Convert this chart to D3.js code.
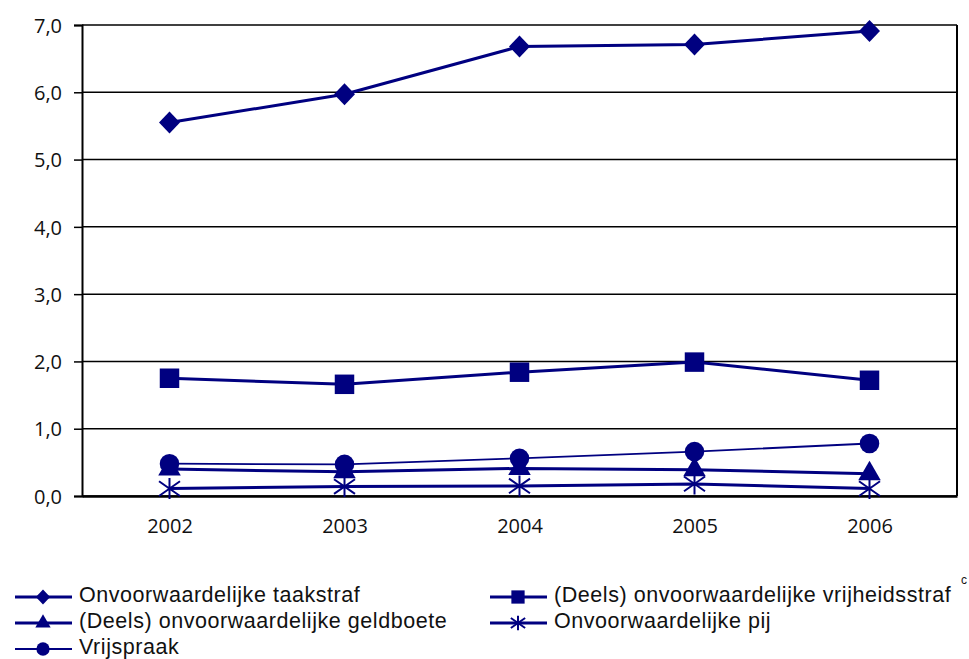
<!DOCTYPE html>
<html>
<head>
<meta charset="utf-8">
<script src="https://cdn.jsdelivr.net/npm/d3@7"></script>
<style>
  body { margin: 0; background: white; }
  svg { display: block; font-family: "Open Sans", "Liberation Sans", sans-serif; }
</style>
</head>
<body>
<div id="chart"></div>
<script>
// data
const years = ["2002", "2003", "2004", "2005", "2006"];
const taakstraf = [5.55, 5.97, 6.68, 6.71, 6.91];
const vrijheidsstraf = [1.75, 1.66, 1.84, 1.99, 1.72];
const geldboete = [0.40, 0.36, 0.41, 0.39, 0.33];
const pij = [0.11, 0.14, 0.15, 0.18, 0.11];
const vrijspraak = [0.48, 0.47, 0.56, 0.66, 0.78];
const yTicks = [0, 1, 2, 3, 4, 5, 6, 7];

const series = [
  {name: "Onvoorwaardelijke taakstraf", values: taakstraf, symbol: "diamond", width: 3},
  {name: "(Deels) onvoorwaardelijke vrijheidsstraf", values: vrijheidsstraf, symbol: "square", width: 3},
  {name: "(Deels) onvoorwaardelijke geldboete", values: geldboete, symbol: "triangle", width: 3},
  {name: "Onvoorwaardelijke pij", values: pij, symbol: "star", width: 3},
  {name: "Vrijspraak", values: vrijspraak, symbol: "circle", width: 1.8}
];

const W = 969, H = 659;
const color = "#000080";
const plotLeft = 82, plotRight = 957, plotTop = 25, plotBottom = 496;

const svg = d3.select("#chart").append("svg")
    .attr("width", W)
    .attr("height", H);

const x = d3.scalePoint()
    .domain(years)
    .range([plotLeft, plotRight])
    .padding(0.5);

const y = d3.scaleLinear()
    .domain([0, 7])
    .range([plotBottom, plotTop]);

const fmt = d => d.toFixed(1).replace(".", ",");

// gridlines
svg.append("g")
  .selectAll("line")
  .data(yTicks)
  .enter().append("line")
    .attr("x1", plotLeft)
    .attr("x2", plotRight)
    .attr("y1", d => y(d))
    .attr("y2", d => y(d))
    .style("stroke", "black")
    .style("stroke-width", 1.5);

// right border
svg.append("line")
    .attr("x1", plotRight).attr("x2", plotRight)
    .attr("y1", plotTop).attr("y2", plotBottom)
    .style("stroke", "black")
    .style("stroke-width", 2);

// y axis
const yAxis = svg.append("g")
    .attr("transform", `translate(${plotLeft},0)`)
    .call(d3.axisLeft(y).tickValues(yTicks).tickFormat(fmt).tickSize(8).tickPadding(12));
yAxis.attr("font-family", null);
yAxis.select(".domain").style("stroke", "black").style("stroke-width", 2);
yAxis.selectAll(".tick line").style("stroke", "black").style("stroke-width", 1.5);
yAxis.selectAll("text")
    .style("font-size", "20px")
    .style("fill", "#111")
    .attr("dy", "0.36em");

// x axis labels
const xAxis = svg.append("g")
    .attr("transform", `translate(0,${plotBottom})`)
    .call(d3.axisBottom(x).tickSize(0));
xAxis.attr("font-family", null);
xAxis.select(".domain").style("stroke", "black").style("stroke-width", 2.5);
xAxis.selectAll("text")
    .attr("y", 37)
    .attr("dy", 0)
    .style("font-size", "20px")
    .style("fill", "#111");

const symbols = {
  diamond: d3.symbol().type(d3.symbolDiamond).size(200),
  square: d3.symbol().type(d3.symbolSquare).size(380),
  triangle: d3.symbol().type(d3.symbolTriangle).size(220),
  circle: d3.symbol().type(d3.symbolCircle).size(300)
};

function drawMarker(g, sym, cx, cy, k) {
  if (sym === "star") {
    // asterisk: vertical + two diagonals
    const r = 10.5 * k;
    const p = d3.path();
    p.moveTo(cx, cy - r); p.lineTo(cx, cy + r);
    p.moveTo(cx - r, cy - r * 0.7); p.lineTo(cx + r, cy + r * 0.7);
    p.moveTo(cx - r, cy + r * 0.7); p.lineTo(cx + r, cy - r * 0.7);
    g.append("path")
        .attr("d", p.toString())
        .style("stroke", color)
        .style("stroke-width", 2)
        .style("fill", "none");
  } else {
    const sx = sym === "diamond" ? 1.38 * k : k;
    const sy = sym === "diamond" ? 0.84 * k : k;
    g.append("path")
        .attr("d", symbols[sym]())
        .attr("transform", `translate(${cx},${cy}) scale(${sx},${sy})`)
        .style("fill", color);
  }
}

const line = d3.line()
    .x((d, i) => x(years[i]))
    .y(d => y(d));

// draw lowest series last so markers stack like the original
const drawOrder = [0, 1, 4, 2, 3];
drawOrder.forEach(k => {
  const s = series[k];
  const g = svg.append("g");
  g.append("path")
      .datum(s.values)
      .attr("d", line)
      .style("fill", "none")
      .style("stroke", color)
      .style("stroke-width", s.width);
  s.values.forEach((v, i) => drawMarker(g, s.symbol, x(years[i]), y(v), 1));
});

// legend
const legendPos = [
  [15, 597], [490, 597],
  [15, 623], [490, 623],
  [15, 649]
];
series.forEach((s, i) => {
  const [lx, ly] = legendPos[i];
  const g = svg.append("g");
  g.append("line")
      .attr("x1", lx).attr("x2", lx + 57)
      .attr("y1", ly).attr("y2", ly)
      .style("stroke", color)
      .style("stroke-width", s.width);
  drawMarker(g, s.symbol, lx + 28, ly, 0.68);
  g.append("text")
      .attr("x", lx + 64)
      .attr("y", ly + 5)
      .style("font-family", "'Liberation Sans', Arial, sans-serif")
      .style("font-size", "21.5px")
      .style("letter-spacing", "0.55px")
      .style("fill", "#111")
      .text(s.name);
});

svg.append("text")
    .attr("x", 961)
    .attr("y", 584)
    .style("font-family", "'Liberation Sans', Arial, sans-serif")
    .style("font-size", "12px")
    .style("fill", "#111")
    .text("c");
</script>
</body>
</html>
